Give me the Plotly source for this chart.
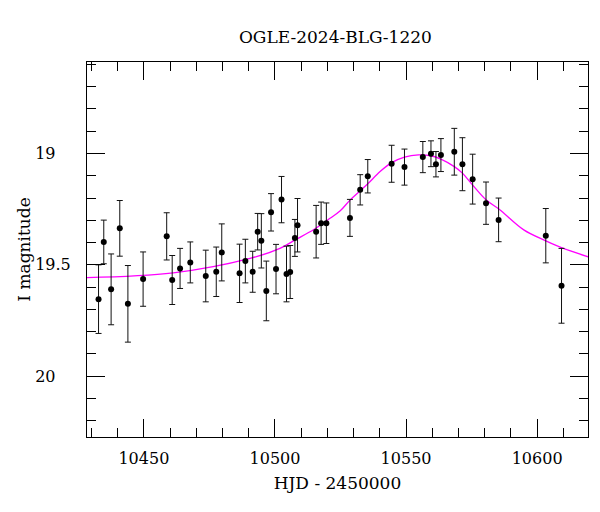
import plotly.graph_objects as go

# Observed photometry (HJD - 2450000, I magnitude, 1-sigma error)
hjd = [10432.7, 10434.7, 10437.5, 10440.8, 10443.9, 10449.7, 10458.7, 10460.8, 10463.8,
       10467.7, 10473.6, 10477.6, 10479.7, 10486.5, 10488.7, 10491.5, 10493.4, 10494.8,
       10496.7, 10498.5, 10500.4, 10502.5, 10504.4, 10505.8, 10507.6, 10508.6, 10515.7,
       10517.6, 10519.6, 10528.6, 10532.5, 10535.4, 10544.5, 10549.4, 10556.4, 10559.5,
       10561.4, 10563.3, 10568.4, 10571.5, 10575.4, 10580.5, 10585.3, 10603.3, 10609.3]
imag = [19.654, 19.397, 19.610, 19.336, 19.675, 19.564, 19.372, 19.568, 19.516,
        19.489, 19.550, 19.531, 19.444, 19.538, 19.483, 19.531, 19.351, 19.392,
        19.617, 19.264, 19.519, 19.207, 19.541, 19.532, 19.379, 19.322, 19.351,
        19.313, 19.313, 19.289, 19.163, 19.102, 19.046, 19.061, 19.016, 19.001,
        19.048, 19.007, 18.992, 19.048, 19.115, 19.223, 19.298, 19.369, 19.594]
ierr = [0.154, 0.098, 0.159, 0.125, 0.172, 0.122, 0.106, 0.110, 0.090,
        0.092, 0.116, 0.111, 0.128, 0.131, 0.098, 0.092, 0.082, 0.122,
        0.134, 0.084, 0.111, 0.104, 0.125, 0.119, 0.083, 0.120, 0.118,
        0.095, 0.091, 0.083, 0.068, 0.075, 0.083, 0.081, 0.070, 0.058,
        0.057, 0.074, 0.105, 0.119, 0.112, 0.095, 0.098, 0.122, 0.168]

# Model light curve (sampled from the plotted curve)
model_t = [10428.2, 10461.2, 10490.5, 10501.9, 10507.7, 10515.0, 10521.0, 10524.9,
           10528.7, 10532.5, 10535.4, 10540.1, 10544.5, 10549.4, 10554.7, 10559.5,
           10563.3, 10568.4, 10571.5, 10575.4, 10580.5, 10585.5, 10594.9, 10603.3,
           10609.3, 10619.5]
model_m = [19.557, 19.536, 19.471, 19.426, 19.388, 19.340, 19.291, 19.257,
           19.208, 19.167, 19.136, 19.081, 19.041, 19.016, 19.006, 19.010,
           19.025, 19.059, 19.088, 19.142, 19.208, 19.250, 19.343, 19.392,
           19.423, 19.464]

x_ticks = [10450, 10500, 10550, 10600]
y_ticks = [19, 19.5, 20]
# labels are left-aligned in the original; pad short ones to the width of "19.5"
y_ticktext = ["19\u2008\u2007", "19.5", "20\u2008\u2007"]

FONT = "DejaVu Serif"

fig = go.Figure()
fig.add_trace(go.Scatter(
    x=model_t, y=model_m, mode="lines", line=dict(color="#ff00ff", width=1.3, shape="spline"),
    hoverinfo="skip", showlegend=False))
fig.add_trace(go.Scatter(
    x=hjd, y=imag, mode="markers",
    marker=dict(color="black", size=6),
    error_y=dict(type="data", array=ierr, visible=True, color="#111111", thickness=1, width=3),
    showlegend=False))

fig.update_layout(
    width=600, height=512,
    margin=dict(l=87, r=12, t=62, b=75),
    paper_bgcolor="white", plot_bgcolor="white",
    font=dict(family=FONT, size=16, color="black"),
    title=dict(text="OGLE-2024-BLG-1220", x=0.559, xanchor="center", y=0.928, yanchor="middle",
               font=dict(family=FONT, size=17, color="black")),
)
fig.update_xaxes(
    range=[10428.3, 10619.4], showgrid=False, zeroline=False,
    showline=True, linecolor="black", linewidth=1, mirror="allticks",
    ticks="inside", ticklen=18, tickwidth=1, tickcolor="black",
    tickvals=x_ticks, ticktext=[str(v) for v in x_ticks],
    tickfont=dict(family=FONT, size=16), ticklabelstandoff=7,
    minor=dict(dtick=10, tick0=10430, ticks="inside", ticklen=9, tickwidth=1, tickcolor="black"),
    title=dict(text="HJD - 2450000", font=dict(family=FONT, size=17), standoff=9),
)
fig.update_yaxes(
    range=[20.273, 18.589], showgrid=False, zeroline=False,
    showline=True, linecolor="black", linewidth=1, mirror="allticks",
    ticks="inside", ticklen=18, tickwidth=1, tickcolor="black",
    tickvals=y_ticks, ticktext=y_ticktext,
    tickfont=dict(family=FONT, size=16), ticklabelstandoff=12,
    minor=dict(dtick=0.1, tick0=18.6, ticks="inside", ticklen=9, tickwidth=1, tickcolor="black"),
    title=dict(text="I magnitude", font=dict(family=FONT, size=17), standoff=0),
)

fig.write_html("out.html")
